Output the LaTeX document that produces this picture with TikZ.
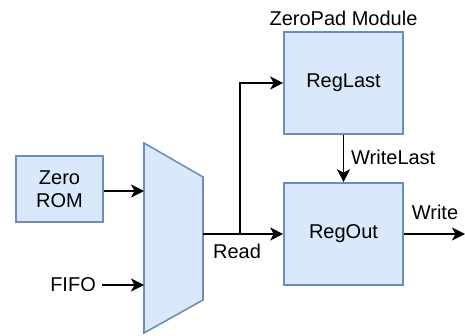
\documentclass[tikz,border=0pt]{standalone}
\usepackage{fontspec}
\setmainfont{Liberation Sans}
\usetikzlibrary{arrows.meta}
\definecolor{boxfill}{HTML}{DAE8FC}
\definecolor{boxline}{HTML}{6C8EBF}
\begin{document}
\begin{tikzpicture}[x=1pt,y=-1pt,
  txt/.style={font=\fontsize{20}{23}\selectfont},
  blk/.style={draw=boxline,fill=boxfill,line width=1.6pt,inner sep=0pt,align=center,txt},
  wire/.style={line width=1.6pt,-{Stealth[length=13pt,width=13pt,inset=3.5pt]}},
  plain/.style={line width=1.6pt},
  lbl/.style={inner sep=0pt,txt}]
\useasboundingbox (0,0) rectangle (465,336);

% blocks
\node[blk,minimum width=87pt,minimum height=66pt] (rom) at (59.5,189) {Zero\\ROM};
\node[blk,minimum width=119pt,minimum height=102pt] (reglast) at (343.5,83) {RegLast};
\node[blk,minimum width=119pt,minimum height=102pt] (regout) at (343.5,234) {RegOut};
\node[lbl,anchor=south] (title) at (343.5,26) {ZeroPad Module};

% multiplexer
\draw[draw=boxline,fill=boxfill,line width=1.6pt]
  (144,143) -- (203,177) -- (203,300) -- (144,333) -- cycle;
\coordinate (muxa) at (144,191);
\coordinate (muxb) at (144,285);
\coordinate (muxo) at (203,234);

% inputs
\node[lbl,anchor=east] (fifo) at (96,285) {FIFO};
\draw[wire] (rom.east |- muxa) -- (muxa);
\draw[wire] ([xshift=6pt]fifo.east) -- (muxb);

% read path with branch to RegLast
\coordinate (split) at (240,234);
\draw[wire] (muxo) -- (regout.west);
\draw[wire] (split) |- (reglast.west);
\node[lbl] (read) at (237,251) {Read};

% RegLast to RegOut
\draw[wire] (reglast.south) -- (regout.north);
\node[lbl,anchor=west] (wl) at (351,157) {WriteLast};

% output
\coordinate (wend) at (465,234);
\draw[wire] (regout.east) -- (wend);
\node[lbl] (write) at (435,212) {Write};
\end{tikzpicture}
\end{document}
